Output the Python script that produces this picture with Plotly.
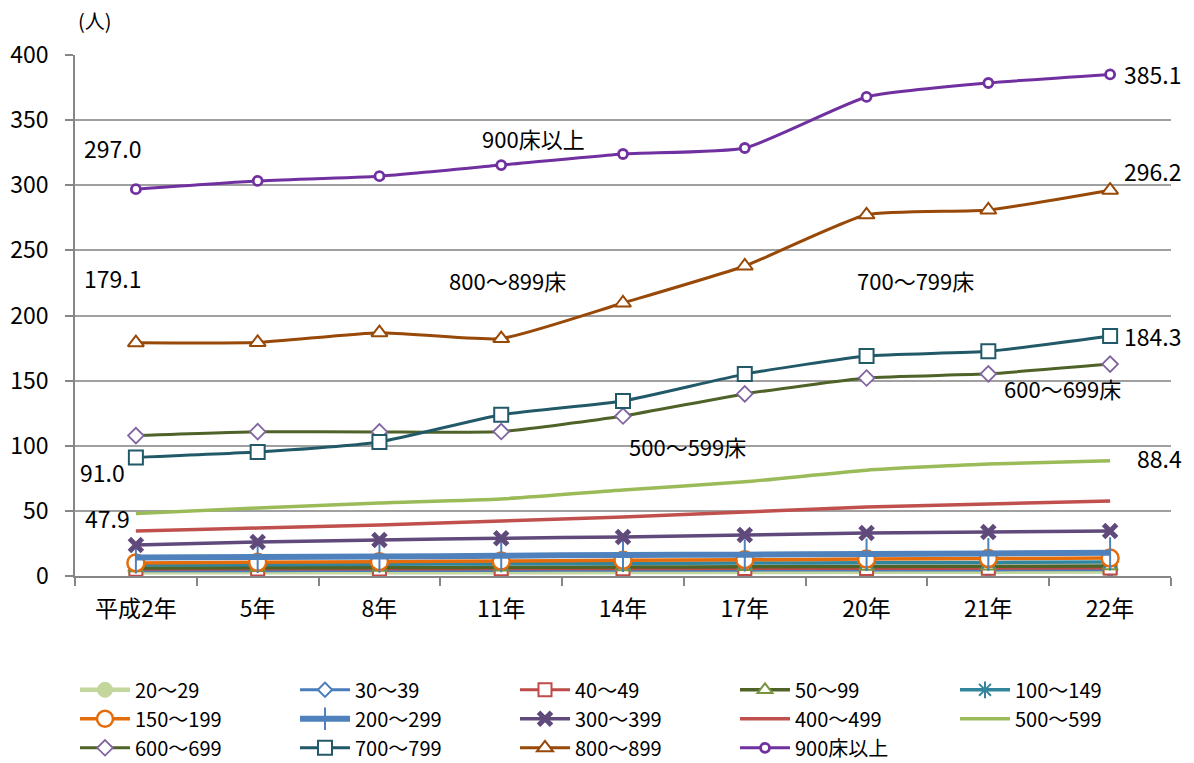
import plotly.graph_objects as go

years = ["平成2年", "5年", "8年", "11年", "14年", "17年", "20年", "21年", "22年"]

s20_29 = [2.8, 2.8, 2.9, 2.9, 3.0, 3.1, 3.2, 3.3, 3.4]
s30_39 = [4.0, 4.1, 4.2, 4.3, 4.4, 4.5, 4.6, 4.7, 4.8]
s40_49 = [5.2, 5.3, 5.4, 5.5, 5.6, 5.7, 5.8, 5.9, 6.1]
s50_99 = [6.1, 6.3, 6.5, 6.7, 6.9, 7.1, 7.3, 7.5, 7.7]
s100_149 = [8.4, 8.7, 9.0, 9.3, 9.6, 9.9, 10.2, 10.4, 10.7]
s150_199 = [10.0, 10.5, 11.0, 11.5, 12.0, 12.5, 13.0, 13.4, 13.8]
s200_299 = [14.2, 14.6, 14.9, 15.6, 16.1, 16.4, 16.9, 17.3, 17.9]
s300_399 = [23.8, 26.1, 27.6, 29.0, 30.0, 31.5, 33.0, 33.8, 34.5]
s400_499 = [34.5, 36.8, 39.2, 42.2, 45.3, 49.1, 53.0, 55.3, 57.6]
s500_599 = [47.9, 52.2, 56.0, 59.1, 66.0, 72.3, 81.2, 86.0, 88.4]
s600_699 = [107.8, 110.8, 110.6, 110.9, 122.8, 139.8, 152.0, 155.2, 162.7]
s700_799 = [91.0, 95.2, 102.9, 123.8, 134.4, 155.0, 168.9, 172.6, 184.3]
s800_899 = [179.1, 179.3, 186.8, 182.3, 209.6, 238.0, 277.3, 281.0, 296.2]
s900 = [297.0, 303.3, 307.0, 315.5, 324.0, 328.6, 367.8, 378.5, 385.1]

names = ["20～29", "30～39", "40～49", "50～99", "100～149",
         "150～199", "200～299", "300～399", "400～499", "500～599",
         "600～699", "700～799", "800～899", "900床以上"]
data = [s20_29, s30_39, s40_49, s50_99, s100_149, s150_199, s200_299,
        s300_399, s400_499, s500_599, s600_699, s700_799, s800_899, s900]

styles = [
    dict(lc="#c3d69b", lw=4.5, sym="circle", ms=15, mc="#c3d69b", mlc="#c3d69b", mlw=1),
    dict(lc="#4a7ebb", lw=3, sym="diamond", ms=11, mc="white", mlc="#4a7ebb", mlw=2),
    dict(lc="#be4b48", lw=3, sym="square", ms=13, mc="white", mlc="#be4b48", mlw=2),
    dict(lc="#4f6228", lw=3.5, sym="triangle-up", ms=13, mc="white", mlc="#77933c", mlw=2),
    dict(lc="#31859c", lw=3.5, sym="asterisk-open", ms=14, mc="#31859c", mlc="#31859c", mlw=2),
    dict(lc="#e46c0a", lw=3.5, sym="circle", ms=17, mc="white", mlc="#e46c0a", mlw=2.5),
    dict(lc="#4f81bd", lw=6, sym="line-ns-open", ms=22, mc="#4f81bd", mlc="#4f81bd", mlw=2),
    dict(lc="#604a7b", lw=3.5, sym="x-thin-open", ms=13, mc="#604a7b", mlc="#604a7b", mlw=5),
    dict(lc="#c0504d", lw=3.5, sym=None),
    dict(lc="#9bbb59", lw=3.5, sym=None),
    dict(lc="#4f6228", lw=3, sym="diamond", ms=12, mc="white", mlc="#8064a2", mlw=1.8),
    dict(lc="#215968", lw=3, sym="square", ms=14, mc="white", mlc="#215968", mlw=2),
    dict(lc="#984807", lw=3, sym="triangle-up", ms=14, mc="white", mlc="#984807", mlw=2),
    dict(lc="#7030a0", lw=3, sym="circle", ms=9, mc="white", mlc="#7030a0", mlw=2.8),
]

FONT = "Noto Sans CJK JP, Noto Sans, sans-serif"

fig = go.Figure()
for nm, vals, st in zip(names, data, styles):
    if st["sym"] is None:
        fig.add_trace(go.Scatter(x=years, y=vals, name=nm, mode="lines",
                                 line=dict(color=st["lc"], width=st["lw"],
                                           shape="spline", smoothing=0.5)))
    else:
        fig.add_trace(go.Scatter(x=years, y=vals, name=nm, mode="lines+markers",
                                 line=dict(color=st["lc"], width=st["lw"],
                                           shape="spline", smoothing=0.5),
                                 marker=dict(symbol=st["sym"], size=st["ms"], color=st["mc"],
                                             line=dict(color=st["mlc"], width=st["mlw"]))))

def ann(xv, yv, text, dx, dy, size=23):
    fig.add_annotation(x=xv, y=yv, text=text, showarrow=False, xshift=dx, yshift=dy,
                       font=dict(family=FONT, size=size, color="#000"))

# value labels
ann(years[0], s900[0], "297.0", -23, 41)
ann(years[-1], s900[-1], "385.1", 42, 0)
ann(years[-1], s800_899[-1], "296.2", 42, 19)
ann(years[0], s800_899[0], "179.1", -23, 65)
ann(years[-1], s700_799[-1], "184.3", 42, 0)
ann(years[0], s700_799[0], "91.0", -33, -15)
ann(years[0], s500_599[0], "47.9", -28, -4)
ann(years[-1], s500_599[-1], "88.4", 49, 3)
# series labels
ann(years[3], s900[3], "900床以上", 32, 27, 22)
ann(years[3], s800_899[3], "800～899床", 6, 59, 22)
ann(years[6], s700_799[6], "700～799床", 49, 76, 22)
ann(years[8], s600_699[8], "600～699床", -48, -24, 22)
ann(years[5], s500_599[5], "500～599床", -57, 36, 22)

fig.add_annotation(xref="paper", yref="paper", x=0.018, y=1.0, yshift=35,
                   text="(人)", showarrow=False,
                   font=dict(family=FONT, size=20, color="#000"),
                   xanchor="center", yanchor="middle")

fig.update_layout(
    width=1194, height=763,
    margin=dict(l=75, r=23, t=55, b=187, autoexpand=False),
    plot_bgcolor="white", paper_bgcolor="white",
    font=dict(family=FONT, color="#000"),
    showlegend=True,
    legend=dict(orientation="h", x=0.0, xanchor="left", y=-0.181, yanchor="top",
                entrywidth=155, entrywidthmode="pixels", tracegroupgap=0,
                font=dict(family=FONT, size=20, color="#000"),
                itemwidth=50, traceorder="normal", bgcolor="rgba(0,0,0,0)"),
    xaxis=dict(type="category", showgrid=False, showline=True, linecolor="#868686",
               linewidth=1.5, ticks="outside", tickson="boundaries", ticklen=8,
               tickcolor="#868686", tickwidth=1.5, ticklabelstandoff=12,
               tickfont=dict(family=FONT, size=23, color="#000"),
               range=[-0.5, 8.5]),
    yaxis=dict(range=[0, 400], dtick=50, showgrid=True, gridcolor="#a0a0a0", gridwidth=1.5,
               showline=True, linecolor="#868686", linewidth=1.5, ticks="outside",
               ticklen=8, tickcolor="#868686", tickwidth=1.5, zeroline=False,
               ticklabelstandoff=12,
               tickfont=dict(family=FONT, size=23, color="#000")),
)

fig.write_html("out.html")
